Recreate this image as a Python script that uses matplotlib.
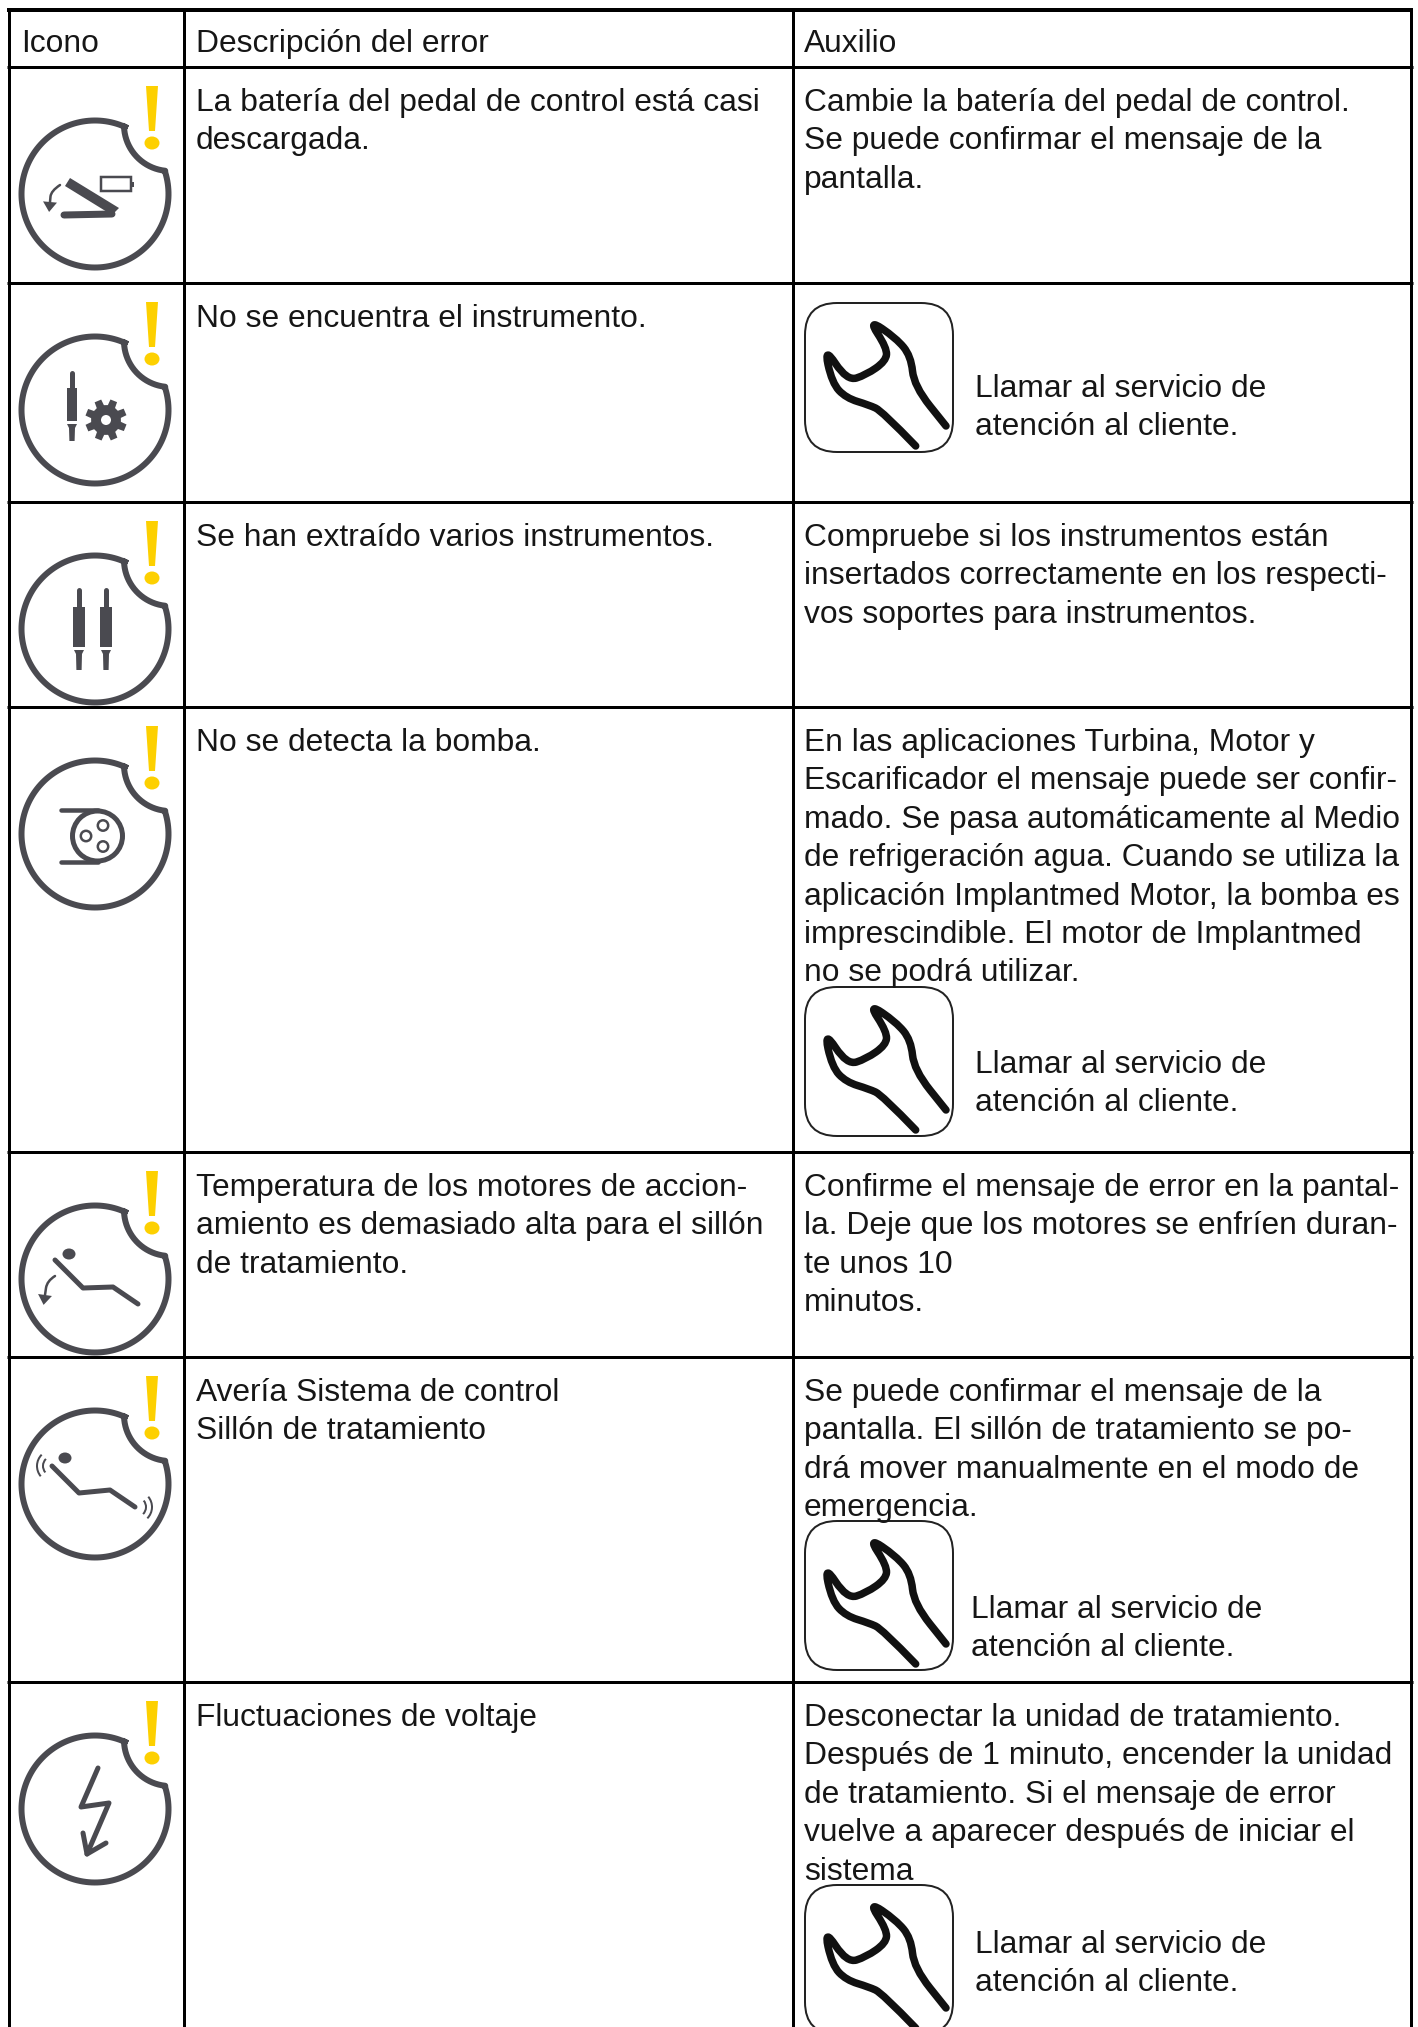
import numpy as np
import matplotlib
matplotlib.use('Agg')
import matplotlib.pyplot as plt
from matplotlib.path import Path
from matplotlib.patches import PathPatch, Circle, FancyBboxPatch, Polygon, Arc, Rectangle, Ellipse

plt.rcParams['font.family'] = ['Liberation Sans', 'DejaVu Sans']

# tabla
encabezados = ['Icono', 'Descripción del error', 'Auxilio']
descripcion = [
    ['La batería del pedal de control está casi', 'descargada.'],
    ['No se encuentra el instrumento.'],
    ['Se han extraído varios instrumentos.'],
    ['No se detecta la bomba.'],
    ['Temperatura de los motores de accion-', 'amiento es demasiado alta para el sillón', 'de tratamiento.'],
    ['Avería Sistema de control', 'Sillón de tratamiento'],
    ['Fluctuaciones de voltaje'],
]
auxilio = [
    ['Cambie la batería del pedal de control.', 'Se puede confirmar el mensaje de la', 'pantalla.'],
    [],
    ['Compruebe si los instrumentos están', 'insertados correctamente en los respecti-', 'vos soportes para instrumentos.'],
    ['En las aplicaciones Turbina, Motor y', 'Escarificador el mensaje puede ser confir-',
     'mado. Se pasa automáticamente al Medio', 'de refrigeración agua. Cuando se utiliza la',
     'aplicación Implantmed Motor, la bomba es', 'imprescindible. El motor de Implantmed',
     'no se podrá utilizar.'],
    ['Confirme el mensaje de error en la pantal-', 'la. Deje que los motores se enfríen duran-', 'te unos 10', 'minutos.'],
    ['Se puede confirmar el mensaje de la', 'pantalla. El sillón de tratamiento se po-',
     'drá mover manualmente en el modo de', 'emergencia.'],
    ['Desconectar la unidad de tratamiento.', 'Después de 1 minuto, encender la unidad',
     'de tratamiento. Si el mensaje de error', 'vuelve a aparecer después de iniciar el', 'sistema'],
]
servicio = ['Llamar al servicio de', 'atención al cliente.']

# posiciones en pixeles
col_x = [9, 184, 793, 1411]
fila_y = [10, 67, 283, 502, 707, 1152, 1357, 1682]
llave_top = [303, 987, 1521, 1885]
llave_texto = [(975, 397), (975, 1073), (971, 1618), (975, 1953)]

GRIS = '#4a4a50'
AMARILLO = '#fdd000'
NEGRO = '#161616'
FS = 22.9
PASO = 38.4

fig = plt.figure(figsize=(14.18, 20.27), dpi=100)
ax = fig.add_axes([0, 0, 1, 1])
ax.set_xlim(0, 1418)
ax.set_ylim(2027, 0)
ax.axis('off')


def px(v):
    return v * 0.72


def linea(xs, ys, w, color=GRIS):
    ax.plot(xs, ys, color=color, lw=px(w), solid_capstyle='round', solid_joinstyle='round')


def suave(puntos, w, color=GRIS):
    # curva que pasa cerca de los puntos, con cuadraticas
    verts = [puntos[0]]
    codes = [Path.MOVETO]
    for i in range(1, len(puntos) - 1):
        medio = ((puntos[i][0] + puntos[i + 1][0]) / 2, (puntos[i][1] + puntos[i + 1][1]) / 2)
        verts += [puntos[i], medio]
        codes += [Path.CURVE3, Path.CURVE3]
    verts.append(puntos[-1])
    codes.append(Path.LINETO)
    ax.add_patch(PathPatch(Path(verts, codes), fill=False, ec=color, lw=px(w), capstyle='round', joinstyle='round'))


def contorno(cy):
    # circulo mordido y signo de exclamacion
    cx = 95
    r = 73.5
    bx, by, br = 170, cy - 69, 46
    t1 = np.radians(np.linspace(66, 377, 140))
    xs = list(cx + r * np.cos(t1))
    ys = list(cy - r * np.sin(t1))
    t2 = np.radians(np.linspace(96, 176, 40))
    xs += list(bx + br * np.cos(t2))
    ys += list(by + br * np.sin(t2))
    xs.append(xs[0])
    ys.append(ys[0])
    ax.plot(xs, ys, color=GRIS, lw=px(6), solid_joinstyle='round')
    ax.add_patch(Polygon([(146, cy - 108), (158, cy - 108), (155, cy - 63), (149, cy - 63)], fc=AMARILLO, ec='none'))
    ax.add_patch(Ellipse((152, cy - 51), 15, 13, fc=AMARILLO, ec='none'))


def flecha(p0, p1, p2, w=2.5, tam=1.0):
    suave([p0, p1, p2], w)
    d = np.array(p2) - np.array(p1)
    d = d / np.hypot(*d)
    n = np.array([-d[1], d[0]])
    q = np.array(p2)
    ax.add_patch(Polygon([q + d * 10 * tam, q + n * 7 * tam, q - n * 7 * tam], fc=GRIS, ec='none'))


def instrumento(x, cy, y0, y1, y2, y3, y4, ancho):
    linea([x, x], [cy + y0, cy + y1], 5)
    ax.add_patch(Rectangle((x - ancho / 2, cy + y1), ancho, y2 - y1, fc=GRIS, ec='none'))
    ax.add_patch(Polygon([(x - 5, cy + y3), (x + 5, cy + y3), (x + 3, cy + y3 + 4), (x + 2.6, cy + y4),
                          (x - 2.6, cy + y4), (x - 3, cy + y3 + 4)], fc=GRIS, ec='none'))


def rueda(x, y):
    ang = np.radians(np.arange(0, 360, 45) + 22)
    v = []
    for a in ang:
        for d, r in [(-0.26, 15), (-0.17, 21), (0.17, 21), (0.26, 15)]:
            v.append((x + r * np.cos(a + d), y + r * np.sin(a + d)))
    ax.add_patch(Polygon(v, fc=GRIS, ec='none'))
    ax.add_patch(Circle((x, y), 5, fc='white', ec='none'))


def icono_pedal(cy):
    cx = 95
    ax.add_patch(Polygon([(cx - 30, cy - 8), (cx - 25, cy - 16), (cx + 24, cy + 14), (cx + 17, cy + 21)], fc=GRIS, ec='none'))
    linea([cx - 31, cx + 17], [cy + 21, cy + 20], 7)
    ax.add_patch(Rectangle((cx + 6, cy - 17), 30, 14, fc='white', ec=GRIS, lw=px(2.5)))
    ax.add_patch(Rectangle((cx + 36, cy - 12), 3, 5, fc=GRIS, ec='none'))
    flecha((cx - 35, cy - 9), (cx - 44, cy - 3), (cx - 45, cy + 8))


def icono_rueda(cy):
    instrumento(72, cy, -37, -22, 11, 14, 31, 10)
    rueda(106, cy + 10)


def icono_dos(cy):
    instrumento(79, cy, -39, -22, 18, 21, 41, 12.5)
    instrumento(106, cy, -39, -22, 18, 21, 41, 12.5)


def icono_bomba(cy):
    cx = 95
    ax.add_patch(Circle((cx + 2.5, cy + 2), 25, fc='none', ec=GRIS, lw=px(5)))
    linea([cx - 34, cx + 3], [cy - 24, cy - 24], 4.5)
    linea([cx - 34, cx + 3], [cy + 28, cy + 28], 4.5)
    for dx, dy in [(-9, 2), (8, -8.5), (8, 12.5)]:
        ax.add_patch(Circle((cx + dx, cy + dy), 5.2, fc='none', ec=GRIS, lw=px(2.5)))


def icono_sillon(cy):
    cx = 95
    ax.add_patch(Ellipse((cx - 26, cy - 25), 13, 11, fc=GRIS, ec='none'))
    linea([cx - 40, cx - 12, cx + 18, cx + 43], [cy - 19, cy + 9, cy + 8, cy + 25], 5)
    flecha((cx - 40, cy - 3), (cx - 48, cy + 2), (cx - 50, cy + 16))


def icono_vibra(cy):
    cx = 95
    ax.add_patch(Ellipse((cx - 30, cy - 26), 13, 11, fc=GRIS, ec='none'))
    linea([cx - 43, cx - 16, cx + 15, cx + 40], [cy - 18, cy + 9, cy + 6, cy + 23], 5)
    for r in (10, 16):
        ax.add_patch(Arc((cx - 42, cy - 18), 2 * r, 2 * r, theta1=140, theta2=225, ec=GRIS, lw=px(2)))
        ax.add_patch(Arc((cx + 41, cy + 23), 2 * r, 2 * r, theta1=-40, theta2=45, ec=GRIS, lw=px(2)))


def icono_rayo(cy):
    cx = 95
    linea([cx + 3, cx - 14, cx + 14, cx - 8], [cy - 41, cy - 2, cy - 6, cy + 45], 5)
    linea([cx - 12, cx - 8, cx + 11], [cy + 24, cy + 45, cy + 34], 5)


def llave(x, y):
    ax.add_patch(FancyBboxPatch((x + 32, y + 32), 148 - 64, 149 - 64, boxstyle='round,pad=32,rounding_size=32',
                                fc='white', ec='#222222', lw=px(2)))
    pts = [(110.7, 143), (77, 108), (64, 102), (41, 95), (27, 80), (19, 43), (42, 78), (61, 72), (81, 58),
           (82, 45), (63, 16), (91, 35), (106, 53), (109, 83), (141, 123)]
    suave([(x + a, y + b) for a, b in pts], 7.5, color='#111111')


# lineas de la tabla
for i, y in enumerate(fila_y):
    w = 4 if i == 0 else 3
    ax.plot([col_x[0] - 2, col_x[-1] + 2], [y, y], color='black', lw=px(w), solid_capstyle='butt')
for x in col_x:
    ax.plot([x, x], [fila_y[0], 2027], color='black', lw=px(3), solid_capstyle='butt')

# encabezado
for x, t in zip([21, 196, 804], encabezados):
    ax.text(x, 52, t, fontsize=FS, color=NEGRO, va='baseline', ha='left')

# filas
dibujos = [icono_pedal, icono_rueda, icono_dos, icono_bomba, icono_sillon, icono_vibra, icono_rayo]
for i in range(7):
    top = fila_y[i + 1]
    cy = top + 127
    contorno(cy)
    dibujos[i](cy)
    for j, t in enumerate(descripcion[i]):
        ax.text(196, top + 44 + j * PASO, t, fontsize=FS, color=NEGRO, va='baseline', ha='left')
    for j, t in enumerate(auxilio[i]):
        ax.text(804, top + 44 + j * PASO, t, fontsize=FS, color=NEGRO, va='baseline', ha='left')

# llaves con su texto
for top, (tx, ty) in zip(llave_top, llave_texto):
    llave(805, top)
    for j, t in enumerate(servicio):
        ax.text(tx, ty + j * PASO, t, fontsize=FS, color=NEGRO, va='baseline', ha='left')

fig.savefig('out.png', dpi=100, facecolor='white')
